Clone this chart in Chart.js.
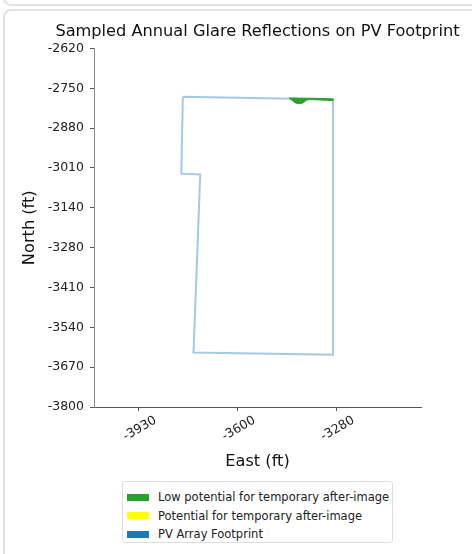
<!DOCTYPE html>
<html lang="en">
<head>
    <meta charset="UTF-8">
    <title>Sampled Annual Glare Reflections on PV Footprint</title>
    <script src="https://cdn.jsdelivr.net/npm/chart.js"></script>
    <style>
        html, body { margin: 0; padding: 0; background: #fff; }
        body {
            width: 472px; height: 554px; position: relative; overflow: hidden;
            font-family: "DejaVu Sans", sans-serif; color: #222;
        }
        .prev-card {
            position: absolute; left: 3px; top: -20px; width: 520px; height: 22px;
            border: 2px solid #e2e2e2; border-radius: 8px;
        }
        .card {
            position: absolute; left: 3px; top: 9px; width: 520px; height: 620px;
            border: 2px solid #e2e2e2; border-radius: 8px;
        }
        .chart-box { position: absolute; left: 0; top: 0; width: 472px; height: 554px; }
        .legend {
            position: absolute; left: 122px; top: 481px; width: 271px; height: 62px;
            border: 1px solid #dcdcdc; border-radius: 3px; box-sizing: border-box;
            padding-top: 6px; background: #fff;
        }
        .legend-item { height: 18.5px; display: flex; align-items: center; font-size: 11.5px; color: #222; }
        .legend-item span.sw { width: 22px; height: 7px; margin-left: 4px; margin-right: 9px; }
    </style>
</head>
<body>

    <div class="prev-card"></div>
    <div class="card"></div>

    <div class="chart-box">
        <canvas id="glareChart" width="472" height="554"></canvas>
    </div>

    <div class="legend" id="legend"></div>

    <script>
        // PV footprint outline (ft)
        var footprintEast = [-3783, -3291, -3291, -3748, -3726, -3788, -3783];
        var footprintNorth = [-2779, -2788, -3628, -3621, -3035, -3032, -2779];

        // low potential glare patch (ft)
        var lowGlareEast = [-3435, -3291, -3291, -3366, -3379, -3389, -3402, -3415, -3425, -3435];
        var lowGlareNorth = [-2783, -2786, -2791, -2788, -2791, -2799, -2802, -2799, -2791, -2783];

        // potential for after-image: no samples
        var medGlareEast = [];
        var medGlareNorth = [];

        var seriesNames = [
            'Low potential for temporary after-image',
            'Potential for temporary after-image',
            'PV Array Footprint'
        ];
        var seriesColors = ['#2ca02c', '#ffff00', '#1f77b4'];

        var eastRange = [-4074, -3003];
        var northRange = [-3800, -2620];
        var xTickValues = [-3928, -3604, -3280];
        var xTickLabels = ['-3930', '-3600', '-3280'];
        var yTickLabels = ['-2620', '-2750', '-2880', '-3010', '-3140', '-3280', '-3410', '-3540', '-3670', '-3800'];

        function toPoints(xs, ys) {
            var pts = [];
            for (var i = 0; i < xs.length; i++) {
                pts.push({ x: xs[i], y: ys[i] });
            }
            return pts;
        }

        // center the title over the plot area instead of the whole canvas
        var titleOverPlot = {
            id: 'titleOverPlot',
            afterLayout: function (chart) {
                var t = chart.titleBlock;
                if (!t) return;
                var c = (chart.chartArea.left + chart.chartArea.right) / 2;
                var half = Math.min(c, chart.width - c);
                t.left = c - half;
                t.right = c + half;
            }
        };

        var tickFont = { family: 'DejaVu Sans', size: 12.5 };
        var titleFont = { family: 'DejaVu Sans', size: 16.2, weight: 'normal' };

        var ctx = document.getElementById('glareChart').getContext('2d');
        new Chart(ctx, {
            type: 'scatter',
            plugins: [titleOverPlot],
            data: {
                datasets: [
                    {
                        label: seriesNames[0],
                        data: toPoints(lowGlareEast, lowGlareNorth),
                        showLine: true,
                        fill: 'shape',
                        backgroundColor: seriesColors[0],
                        borderColor: seriesColors[0],
                        borderWidth: 1,
                        pointRadius: 0,
                        tension: 0.3,
                        order: 0
                    },
                    {
                        label: seriesNames[1],
                        data: toPoints(medGlareEast, medGlareNorth),
                        showLine: true,
                        fill: 'shape',
                        backgroundColor: seriesColors[1],
                        borderColor: seriesColors[1],
                        pointRadius: 0,
                        order: 1
                    },
                    {
                        label: seriesNames[2],
                        data: toPoints(footprintEast, footprintNorth),
                        showLine: true,
                        fill: false,
                        borderColor: 'rgba(31, 119, 180, 0.4)',
                        borderWidth: 2,
                        pointRadius: 0,
                        order: 2
                    }
                ]
            },
            options: {
                responsive: false,
                animation: false,
                layout: { padding: { left: 0, right: 51, top: 0, bottom: 82 } },
                plugins: {
                    legend: { display: false },
                    tooltip: { enabled: false },
                    title: {
                        display: true,
                        text: 'Sampled Annual Glare Reflections on PV Footprint',
                        color: '#111',
                        font: titleFont,
                        padding: { top: 22, bottom: 7 }
                    }
                },
                scales: {
                    x: {
                        type: 'linear',
                        min: eastRange[0],
                        max: eastRange[1],
                        afterBuildTicks: function (scale) {
                            scale.ticks = xTickValues.map(function (v) { return { value: v }; });
                        },
                        afterFit: function (scale) { scale.height = 65; },
                        ticks: {
                            color: '#222',
                            font: tickFont,
                            minRotation: 30,
                            maxRotation: 30,
                            labelOffset: 17,
                            padding: 2,
                            callback: function (v, i) { return xTickLabels[i]; }
                        },
                        grid: { drawOnChartArea: false, tickLength: 4, color: '#555' },
                        border: { color: '#555', width: 1 },
                        title: {
                            display: true,
                            text: 'East (ft)',
                            color: '#111',
                            font: titleFont,
                            padding: { top: 0, bottom: 0 }
                        }
                    },
                    y: {
                        type: 'linear',
                        min: northRange[0],
                        max: northRange[1],
                        afterBuildTicks: function (scale) {
                            var n = yTickLabels.length;
                            var step = (northRange[1] - northRange[0]) / (n - 1);
                            scale.ticks = yTickLabels.map(function (l, i) {
                                return { value: northRange[1] - i * step };
                            });
                        },
                        afterFit: function (scale) { scale.width = 94; },
                        ticks: {
                            color: '#222',
                            font: tickFont,
                            padding: 6,
                            callback: function (v, i) { return yTickLabels[i]; }
                        },
                        grid: { drawOnChartArea: false, tickLength: 4, color: '#555' },
                        border: { color: '#888', width: 1 },
                        title: {
                            display: true,
                            text: 'North (ft)',
                            color: '#111',
                            font: titleFont,
                            padding: { top: 20, bottom: 0 }
                        }
                    }
                }
            }
        });

        // legend box under the chart
        var legendEl = document.getElementById('legend');
        for (var i = 0; i < seriesNames.length; i++) {
            var row = document.createElement('div');
            row.className = 'legend-item';
            var sw = document.createElement('span');
            sw.className = 'sw';
            sw.style.background = seriesColors[i];
            var txt = document.createElement('span');
            txt.textContent = seriesNames[i];
            row.appendChild(sw);
            row.appendChild(txt);
            legendEl.appendChild(row);
        }
    </script>

</body>
</html>
